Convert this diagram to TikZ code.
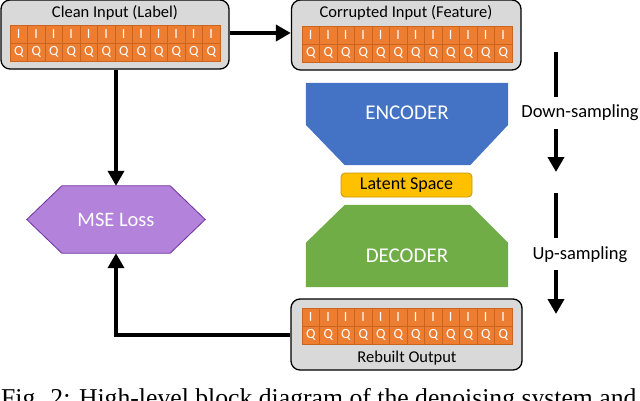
\documentclass[tikz,border=0pt]{standalone}
\usepackage{fontspec}
\setmainfont{Carlito}
\newfontfamily\capfont{Liberation Serif}
\usetikzlibrary{arrows.meta,calc}
\definecolor{boxgray}{HTML}{D9D9D9}
\definecolor{cellorange}{HTML}{ED7D31}
\definecolor{celledge}{HTML}{C9651F}
\definecolor{encblue}{HTML}{4472C4}
\definecolor{decgreen}{HTML}{70AD47}
\definecolor{latyellow}{HTML}{FFC000}
\definecolor{latedge}{HTML}{C99700}
\definecolor{msefill}{HTML}{B383DB}
\definecolor{mseedge}{HTML}{7030A0}
\newcommand\iqgrid[3]{%
  \foreach \i in {0,...,11}{%
    \node[cellbox] (#1I\i) at ({#2+17.5*\i+8.75},{#3+9}) {I};
    \node[cellbox] (#1Q\i) at ({#2+17.5*\i+8.75},{#3+27}) {Q};
  }}
\tikzset{
  framebox/.style={draw=black, line width=1.3pt, fill=boxgray, rounded corners=9pt, inner sep=0pt},
  cellbox/.style={draw=celledge, line width=0.6pt, fill=cellorange, minimum width=17.5pt, minimum height=18pt, inner sep=0pt, text=white, font=\fontsize{14}{14}\selectfont},
  titletext/.style={font=\fontsize{16.5}{16.5}\selectfont, inner sep=0pt},
  sidetext/.style={font=\fontsize{18.5}{18.5}\selectfont, inner sep=0pt},
  bigwhite/.style={text=white, font=\fontsize{21}{21}\selectfont, inner sep=0pt},
  thickline/.style={line width=4pt, black},
  arr/.style={line width=4pt, black, -{Triangle[width=16pt,length=15pt]}},
}
\begin{document}
\begin{tikzpicture}[x=1pt,y=-1pt]
\useasboundingbox (0,0) rectangle (640,400);
\clip (0,0) rectangle (640,400);

% frames
\node[framebox, minimum width=228pt, minimum height=69pt] (clean) at (115,34.5) {};
\node[framebox, minimum width=229.5pt, minimum height=70pt] (corr) at (406.25,35) {};
\node[framebox, minimum width=231pt, minimum height=71pt] (rebuilt) at (406.5,334.5) {};

\node[titletext] (tclean) at (115,13) {Clean Input (Label)};
\node[titletext] (tcorr) at (406,13) {Corrupted Input (Feature)};
\node[titletext] (treb) at (407,358) {Rebuilt Output};

\iqgrid{a}{10}{25}
\iqgrid{b}{302}{26}
\iqgrid{c}{302}{308}

% encoder
\node[minimum width=202pt, minimum height=82pt, inner sep=0pt] (enc) at (407,124) {};
\fill[encblue] (enc.north west) -- (enc.north east) -- ($(enc.north east)+(0,42)$)
  -- ($(enc.south east)+(-38,0)$) -- ($(enc.south west)+(39,0)$) -- ($(enc.north west)+(0,42)$) -- cycle;
\node[bigwhite] (tenc) at (407,113) {ENCODER};

% latent
\node[draw=latedge, line width=0.8pt, fill=latyellow, rounded corners=4pt, minimum width=131pt, minimum height=24pt, inner sep=0pt, font=\fontsize{18}{18}\selectfont] (lat) at (406.5,185) {Latent Space};

% decoder
\node[minimum width=202pt, minimum height=82pt, inner sep=0pt] (dec) at (407,246) {};
\fill[decgreen] ($(dec.north west)+(39,0)$) -- ($(dec.north east)+(-38,0)$) -- ($(dec.north east)+(0,38)$)
  -- (dec.south east) -- (dec.south west) -- ($(dec.north west)+(0,38)$) -- cycle;
\node[bigwhite] (tdec) at (407,256) {DECODER};

% MSE loss
\node[minimum width=178pt, minimum height=67pt, inner sep=0pt] (mse) at (116,219.5) {};
\draw[fill=msefill, draw=mseedge, line width=0.8pt] (mse.west) -- ($(mse.north west)+(35,0)$) -- ($(mse.north east)+(-35,0)$)
  -- (mse.east) -- ($(mse.south east)+(-35,0)$) -- ($(mse.south west)+(35,0)$) -- cycle;
\node[text=white, font=\fontsize{20.5}{20.5}\selectfont, inner sep=0pt] (tmse) at (mse) {MSE Loss};

% connectors
\draw[arr] (clean.east |- 0,33) -- (corr.west |- 0,33);
\draw[arr] (clean.south -| 116,0) -- (mse.north);
\draw[arr] (rebuilt.west) -| (mse.south);

% side arrows
\coordinate (d1) at (556,52);
\coordinate (d2) at (556,97);
\coordinate (d3) at (556,129);
\coordinate (d4) at (556,172);
\coordinate (u1) at (556,193);
\coordinate (u2) at (556,238);
\coordinate (u3) at (556,270);
\coordinate (u4) at (556,314);
\draw[thickline] (d1) -- (d2);
\draw[arr] (d3) -- (d4);
\draw[thickline] (u1) -- (u2);
\draw[arr] (u3) -- (u4);
\node[sidetext] (tdown) at (580,113) {Down-sampling};
\node[sidetext] (tup) at (580,255) {Up-sampling};

% caption (cut off at the lower edge, as in the reference)
\node[anchor=base west, inner sep=0pt, font=\capfont\fontsize{25.7}{25.7}\selectfont] (cap) at (1,406) {Fig. 2: High-level block diagram of the denoising system and};
\end{tikzpicture}
\end{document}
